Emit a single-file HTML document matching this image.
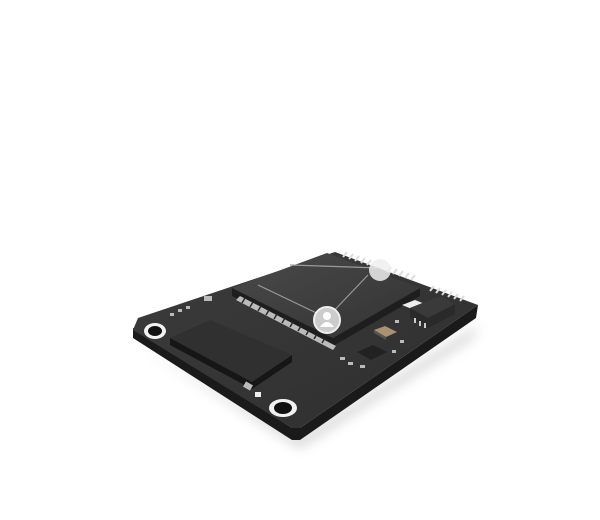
<!DOCTYPE html>
<html><head><style>html,body{margin:0;padding:0;background:#fff;width:600px;height:520px;overflow:hidden}</style></head>
<body>
<svg width="600" height="520" viewBox="0 0 600 520" xmlns="http://www.w3.org/2000/svg">
<defs>
<filter id="sh" x="-20%" y="-20%" width="140%" height="140%"><feGaussianBlur stdDeviation="6"/></filter>
<linearGradient id="top" x1="0" y1="0" x2="1" y2="1"><stop offset="0" stop-color="#3c3c3c"/><stop offset="1" stop-color="#2e2e2e"/></linearGradient>
<linearGradient id="mod" x1="0" y1="0" x2="1" y2="1"><stop offset="0" stop-color="#4a4a4a"/><stop offset="1" stop-color="#333"/></linearGradient>
</defs>
<polygon points="140,345 300,448 470,340 480,325 300,438" fill="#999" opacity="0.45" filter="url(#sh)"/>
<!-- board sides -->
<polygon points="133,328 133,338 292,440 300,440 476,318 478,305 300,428 292,428" fill="#1a1a1a"/>
<!-- board top -->
<polygon points="138,318 335,252 478,305 300,428 292,428 133,330" fill="url(#top)"/>
<g stroke="#ddd" stroke-width="2">
<line x1="343" y1="257" x2="347" y2="252"/><line x1="349" y1="259" x2="353" y2="254"/><line x1="355" y1="261" x2="359" y2="256"/><line x1="361" y1="263" x2="365" y2="258"/><line x1="367" y1="265" x2="371" y2="260"/><line x1="387" y1="272" x2="391" y2="267"/><line x1="393" y1="274" x2="397" y2="269"/><line x1="399" y1="276" x2="403" y2="271"/><line x1="405" y1="278" x2="409" y2="273"/><line x1="411" y1="280" x2="415" y2="275"/>
<line x1="430" y1="291" x2="434" y2="286"/><line x1="436" y1="293" x2="440" y2="288"/><line x1="442" y1="295" x2="446" y2="290"/><line x1="448" y1="297" x2="452" y2="292"/><line x1="454" y1="299" x2="458" y2="294"/><line x1="460" y1="301" x2="464" y2="296"/>
</g>
<polygon points="232,288 333,338 420,288 420,296 333,346 232,296" fill="#1e1e1e"/>
<polygon points="232,288 327,253 420,288 333,338" fill="url(#mod)"/>
<polygon points="236,300 333,350 336,346 240,296" fill="#bbb"/>
<g stroke="#2a2a2a" stroke-width="1.5">
<line x1="245" y1="298" x2="242" y2="303"/><line x1="253" y1="302" x2="250" y2="307"/><line x1="261" y1="306" x2="258" y2="311"/><line x1="269" y1="310" x2="266" y2="315"/><line x1="277" y1="314" x2="274" y2="319"/><line x1="285" y1="318" x2="282" y2="323"/><line x1="293" y1="322" x2="290" y2="327"/><line x1="301" y1="326" x2="298" y2="331"/><line x1="309" y1="330" x2="306" y2="335"/><line x1="317" y1="334" x2="314" y2="339"/><line x1="325" y1="338" x2="322" y2="343"/>
</g>
<g stroke="#9a9a9a" stroke-width="1.2" fill="none">
<line x1="258" y1="285" x2="327" y2="318"/><line x1="327" y1="318" x2="368" y2="275"/><line x1="290" y1="265" x2="380" y2="268"/>
</g>
<circle cx="380" cy="270" r="11" fill="#eee" opacity="0.85"/>
<circle cx="327" cy="320" r="13" fill="#ccc" stroke="#eee" stroke-width="2"/>
<circle cx="327" cy="316" r="4" fill="#fff"/>
<path d="M320 327 Q327 317 334 327 Z" fill="#fff"/>
<polygon points="402,305 415,300 425,304 412,309" fill="#eee"/>
<polygon points="410,308 440,296 455,304 455,314 428,328 410,318" fill="#2a2a2a"/>
<polygon points="410,308 440,296 455,304 428,318" fill="#3a3a3a"/>
<g fill="#ccc"><rect x="414" y="318" width="2" height="5"/><rect x="419" y="321" width="2" height="5"/><rect x="424" y="323" width="2" height="5"/></g>
<polygon points="374,330 385,326 397,332 386,337" fill="#a89272"/>
<polygon points="374,330 386,337 386,340 374,333" fill="#555"/>
<polygon points="357,352 373,345 387,352 371,360" fill="#222"/>
<polygon points="170,338 252,382 292,355 292,362 252,389 170,345" fill="#161616"/>
<polygon points="170,338 210,320 292,355 252,382" fill="#303030"/>
<g fill="#bbb">
<rect x="204" y="296" width="8" height="5"/>
<rect x="244" y="383" width="8" height="6" transform="rotate(30 248 386)"/>
<rect x="255" y="392" width="6" height="5" fill="#eee"/>
<rect x="170" y="313" width="4" height="3"/><rect x="178" y="309" width="4" height="3"/><rect x="186" y="306" width="4" height="3"/>
<rect x="340" y="357" width="5" height="3"/><rect x="348" y="362" width="5" height="3"/><rect x="360" y="365" width="5" height="3"/>
<rect x="395" y="320" width="4" height="3"/><rect x="400" y="340" width="4" height="3"/><rect x="392" y="350" width="4" height="3"/>
</g>
<ellipse cx="155" cy="331" rx="11" ry="8" fill="#f2f2f2"/>
<ellipse cx="155" cy="331" rx="7" ry="5" fill="#111"/>
<ellipse cx="283" cy="408" rx="14" ry="9" fill="#f2f2f2"/>
<ellipse cx="283" cy="408" rx="9" ry="6" fill="#111"/>
</svg>
</body></html>
